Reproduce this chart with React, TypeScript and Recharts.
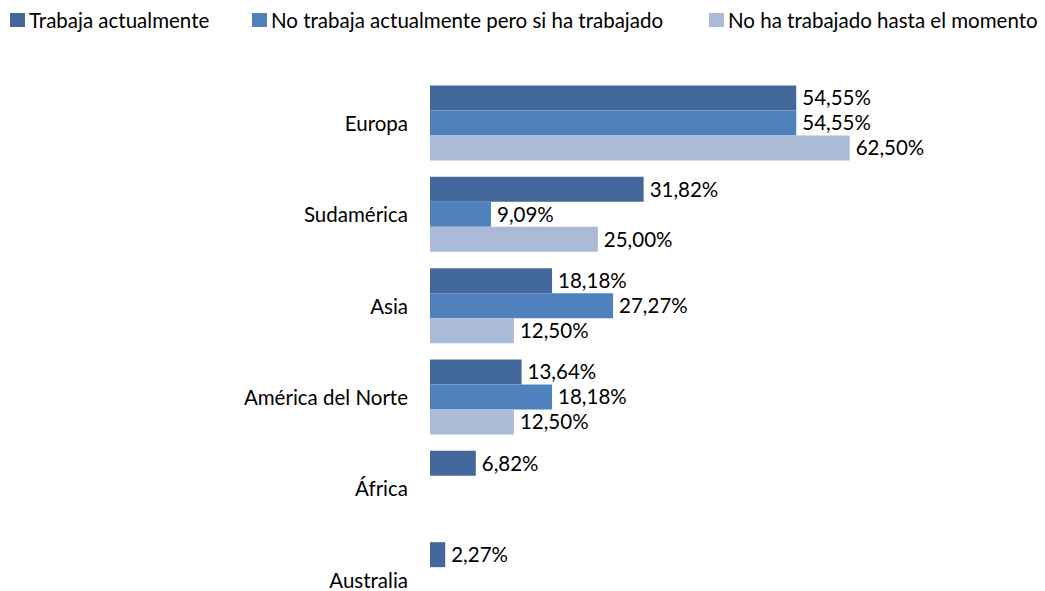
import React from 'react';
import { BarChart, Bar, XAxis, YAxis, LabelList, Legend } from 'recharts';

const categories = ['Europa', 'Sudamérica', 'Asia', 'América del Norte', 'África', 'Australia'];
const trabajaActualmente = [54.55, 31.82, 18.18, 13.64, 6.82, 2.27];
const noTrabajaPeroHaTrabajado = [54.55, 9.09, 27.27, 18.18, null, null];
const noHaTrabajado = [62.5, 25.0, 12.5, 12.5, null, null];

const seriesNames = [
  'Trabaja actualmente',
  'No trabaja actualmente pero si ha trabajado',
  'No ha trabajado hasta el momento',
];
const seriesColors = ['#43699C', '#4F81BD', '#AABAD7'];
const legendLefts = [10, 252, 709];

const data = categories.map((name, i) => ({
  name,
  s1: trabajaActualmente[i],
  s2: noTrabajaPeroHaTrabajado[i],
  s3: noHaTrabajado[i],
}));

const FONT = 'Lato, "Open Sans", sans-serif';
const FS = 20.5;

const fmt = (v: any) =>
  v === null || v === undefined || v === 0 ? '' : `${Number(v).toFixed(2).replace('.', ',')}%`;

const renderLegend = () => (
  <div
    style={{
      position: 'relative',
      height: 40,
      width: 1045,
      whiteSpace: 'nowrap',
      fontFamily: FONT,
      fontSize: FS,
      color: '#000',
    }}
  >
    {seriesNames.map((n, i) => (
      <div
        key={n}
        style={{ position: 'absolute', left: legendLefts[i], top: 0, height: 40, display: 'flex', alignItems: 'center' }}
      >
        <div style={{ width: 15, height: 14, background: seriesColors[i], marginRight: 4 }} />
        <span>{n}</span>
      </div>
    ))}
  </div>
);

export default function App() {
  return (
    <div style={{ position: 'absolute', left: 0, top: 0, width: 1045, height: 591, overflow: 'hidden', background: '#fff' }}>
      <BarChart
        width={1045}
        height={660}
        data={data}
        layout="vertical"
        margin={{ top: 38, right: 145, bottom: 34, left: 0 }}
        barCategoryGap={7.5}
        barGap={0}
      >
        <Legend
          verticalAlign="top"
          align="left"
          content={renderLegend}
          wrapperStyle={{ left: 0, top: 0, width: 1045 }}
        />
        <XAxis type="number" domain={[0, 70]} hide />
        <YAxis
          type="category"
          dataKey="name"
          width={430}
          axisLine={false}
          tickLine={false}
          tickSize={6}
          tickMargin={16}
          tick={{ fill: '#000', fontSize: FS, fontFamily: FONT }}
          interval={0}
        />
        <Bar dataKey="s1" fill={seriesColors[0]} isAnimationActive={false}>
          <LabelList dataKey="s1" position="right" offset={6} formatter={fmt} fill="#000" fontSize={FS} fontFamily={FONT} />
        </Bar>
        <Bar dataKey="s2" fill={seriesColors[1]} isAnimationActive={false}>
          <LabelList dataKey="s2" position="right" offset={6} formatter={fmt} fill="#000" fontSize={FS} fontFamily={FONT} />
        </Bar>
        <Bar dataKey="s3" fill={seriesColors[2]} isAnimationActive={false}>
          <LabelList dataKey="s3" position="right" offset={6} formatter={fmt} fill="#000" fontSize={FS} fontFamily={FONT} />
        </Bar>
      </BarChart>
    </div>
  );
}
